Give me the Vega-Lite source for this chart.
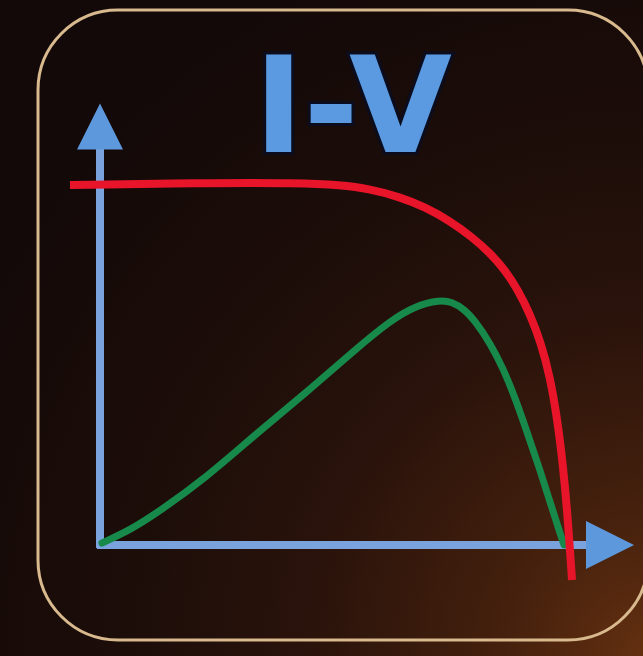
{
  "$schema": "https://vega.github.io/schema/vega-lite/v6.json",
  "width": 643,
  "height": 656,
  "autosize": {"type": "none"},
  "padding": 0,
  "background": "#130908",
  "config": {"view": {"stroke": null}},
  "encoding": {
    "x": {"field": "u", "type": "quantitative", "scale": {"domain": [-100, 543], "nice": false, "zero": false}, "axis": null},
    "y": {"field": "v", "type": "quantitative", "scale": {"domain": [-111, 545], "nice": false, "zero": false}, "axis": null}
  },
  "layer": [
    {
      "data": {"values": [{"u": -100, "u2": 543, "v": -111, "v2": 545}]},
      "mark": {"type": "rect", "fill": {"gradient": "radial", "x1": 1, "y1": 1, "r1": 0, "x2": 1, "y2": 1, "r2": 1.15, "stops": [
        {"offset": 0, "color": "#643010"},
        {"offset": 0.2, "color": "#44200d"},
        {"offset": 0.45, "color": "#2a130b"},
        {"offset": 0.7, "color": "#1c0d09"},
        {"offset": 1, "color": "#130908"}
      ]}},
      "encoding": {"x2": {"field": "u2"}, "y2": {"field": "v2"}}
    },
    {
      "data": {"values": [{"u": -62, "u2": 548, "v": -95, "v2": 535}]},
      "mark": {"type": "rect", "fillOpacity": 0, "stroke": "#d9b98e", "strokeWidth": 3, "cornerRadius": 80},
      "encoding": {"x2": {"field": "u2"}, "y2": {"field": "v2"}}
    },
    {
      "data": {"values": [{"u": 0, "v": -3, "v2": 400}]},
      "mark": {"type": "rule", "color": "#7aa2dc", "strokeWidth": 8},
      "encoding": {"y2": {"field": "v2"}}
    },
    {
      "data": {"values": [{"u": -3, "u2": 492, "v": 0}]},
      "mark": {"type": "rule", "color": "#7aa2dc", "strokeWidth": 8},
      "encoding": {"x2": {"field": "u2"}}
    },
    {
      "data": {"values": [{"u": 0, "v": 418.5}]},
      "mark": {"type": "point", "shape": "M-1,1L0,-1L1,1Z", "filled": true, "opacity": 1, "color": "#5e98dc", "size": 2116, "strokeWidth": 0}
    },
    {
      "data": {"values": [{"u": 510, "v": 0}]},
      "mark": {"type": "point", "shape": "M-1,-1L1,0L-1,1Z", "filled": true, "opacity": 1, "color": "#5e98dc", "size": 2304, "strokeWidth": 0}
    },
    {
      "data": {"values": [
        {"u": 2, "v": 2}, {"u": 30, "v": 15}, {"u": 57, "v": 32}, {"u": 107, "v": 68},
        {"u": 157, "v": 112}, {"u": 207, "v": 153}, {"u": 257, "v": 197}, {"u": 290, "v": 224},
        {"u": 315, "v": 239}, {"u": 340, "v": 245}, {"u": 352, "v": 243}, {"u": 364, "v": 236},
        {"u": 376, "v": 223}, {"u": 390, "v": 202}, {"u": 403, "v": 177}, {"u": 416, "v": 145},
        {"u": 428, "v": 110}, {"u": 440, "v": 75}, {"u": 451, "v": 40}, {"u": 459, "v": 15},
        {"u": 464, "v": 0}
      ]},
      "mark": {"type": "line", "color": "#17894a", "strokeWidth": 7, "interpolate": "basis", "strokeCap": "round"}
    },
    {
      "data": {"values": [
        {"u": -30, "v": 360}, {"u": 100, "v": 362}, {"u": 200, "v": 362}, {"u": 240, "v": 360},
        {"u": 270, "v": 356}, {"u": 300, "v": 348}, {"u": 325, "v": 338}, {"u": 350, "v": 324},
        {"u": 372, "v": 308}, {"u": 390, "v": 292}, {"u": 405, "v": 275}, {"u": 418, "v": 255},
        {"u": 430, "v": 231}, {"u": 441, "v": 202}, {"u": 450, "v": 168}, {"u": 457, "v": 128},
        {"u": 463, "v": 80}, {"u": 468, "v": 25}, {"u": 472, "v": -35}
      ]},
      "mark": {"type": "line", "color": "#e8142a", "strokeWidth": 8, "interpolate": "basis", "strokeCap": "butt"}
    },
    {
      "data": {"values": [{"u": 253, "v": 393, "label": "I-V"}]},
      "mark": {"type": "text", "font": "DejaVu Sans", "fontWeight": "bold", "fontSize": 133, "align": "center", "baseline": "alphabetic", "stroke": "#0b0d1e", "strokeWidth": 6, "fill": "#0b0d1e"},
      "encoding": {"text": {"field": "label"}}
    },
    {
      "data": {"values": [{"u": 253, "v": 393, "label": "I-V"}]},
      "mark": {"type": "text", "font": "DejaVu Sans", "fontWeight": "bold", "fontSize": 133, "align": "center", "baseline": "alphabetic", "fill": "#5b9ae0"},
      "encoding": {"text": {"field": "label"}}
    }
  ]
}
